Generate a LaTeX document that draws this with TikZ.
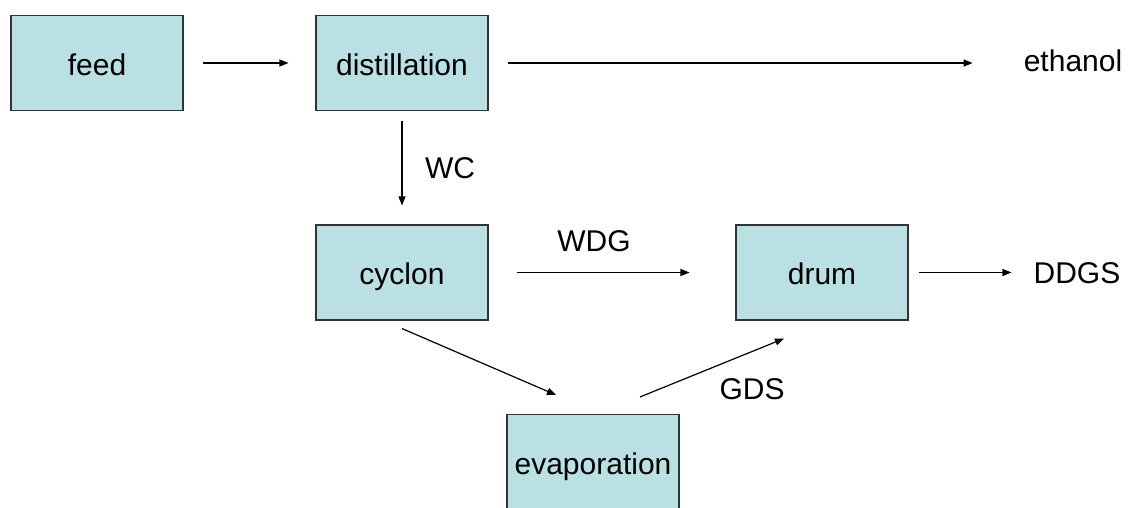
\documentclass[tikz,border=0pt]{standalone}
\usepackage{fontspec}
\setmainfont{Liberation Sans}
\usetikzlibrary{arrows.meta}
\definecolor{boxblue}{HTML}{BBE0E3}
\definecolor{boxline}{HTML}{333333}
\begin{document}
\begin{tikzpicture}[x=1pt,y=-1pt,
  box/.style={draw=boxline, fill=boxblue, line width=1.1pt, minimum width=172pt, minimum height=95pt, inner sep=0pt, text height=25pt, text depth=1pt, font=\fontsize{30}{33}\selectfont},
  lbl/.style={inner sep=0pt, font=\fontsize{30}{33}\selectfont},
  arr/.style={-{Triangle[length=9pt,width=7pt]}, line width=1.2pt}]
\useasboundingbox (0,0) rectangle (1132,507);
\node[box] (feed) at (97,63) {feed};
\node[box] (dist) at (402,63) {distillation};
\node[box] (cyc) at (402,272.5) {cyclon};
\node[box] (drum) at (822,272.5) {drum};
\node[box] (evap) at (593,462) {evaporation};
\node[lbl] (eth) at (1073,61) {ethanol};
\node[lbl] (ddgs) at (1077,273) {DDGS};
\node[lbl] (wc) at (450,168) {WC};
\node[lbl] (wdg) at (594,241) {WDG};
\node[lbl] (gds) at (752,389) {GDS};
\draw[arr] ([shift={(19,0)}]feed.east) -- ([shift={(-27,0)}]dist.west);
\draw[arr] ([shift={(19,0)}]dist.east) -- ([shift={(-51,0)}]eth.west |- dist.east);
\draw[arr] ([shift={(0,10)}]dist.south) -- ([shift={(0,-19)}]cyc.north);
\draw[arr] ([shift={(28,0)}]cyc.east) -- ([shift={(-46,0)}]drum.west);
\draw[arr] ([shift={(10,0)}]drum.east) -- ([shift={(-22,0)}]ddgs.west |- drum.east);
\draw[arr] ([shift={(0,8)}]cyc.south) -- ([shift={(-37,-19)}]evap.north);
\draw[arr] ([shift={(47,-17)}]evap.north) -- ([shift={(-38,18)}]drum.south);
\end{tikzpicture}
\end{document}
